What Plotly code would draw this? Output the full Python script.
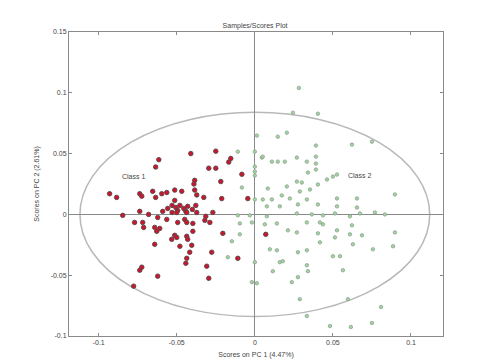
import plotly.graph_objects as go

title_text = "Samples/Scores Plot"
x_title = "Scores on PC 1 (4.47%)"
y_title = "Scores on PC 2 (2.61%)"

class1_x = [-0.041, -0.025, -0.0615, -0.0635, -0.0154, -0.0167, -0.0295, -0.025, -0.0083, -0.0385,
            -0.039, -0.0218, -0.093, -0.0885, -0.0737, -0.0724, -0.0654, -0.0635, -0.0596, -0.0564,
            -0.0513, -0.0468, -0.0385, -0.0372, -0.0327, -0.0212, -0.0513, -0.0045, -0.053, -0.0506,
            -0.048, -0.0455, -0.043, -0.040, -0.0494, -0.0442, -0.0558, -0.0378, -0.0846, -0.0737,
            -0.068, -0.0622, -0.077, -0.0718, -0.0712, -0.0641, -0.0628, -0.0609, -0.053, -0.050,
            -0.0436, -0.0372, -0.0494, -0.0449, -0.0436, -0.0397, -0.0314, -0.0288, -0.0269, -0.032,
            -0.0513, -0.0532, -0.050, -0.0436, -0.043, -0.0397, -0.0641, -0.048, -0.0404, -0.0417,
            -0.0436, -0.0442, -0.0276, -0.0308, -0.0295, -0.0205, -0.0109, 0.007, -0.0724, -0.0737,
            -0.0622, -0.0776, -0.059, -0.0564]
class1_y = [0.050, 0.052, 0.045, 0.039, 0.046, 0.043, 0.038, 0.038, 0.033, 0.028,
            0.025, 0.027, 0.017, 0.014, 0.017, 0.015, 0.019, 0.014, 0.017, 0.018,
            0.020, 0.019, 0.020, 0.016, 0.014, 0.013, 0.0115, 0.013, 0.0074, 0.0057,
            0.0074, 0.0049, 0.0066, 0.0041, 0.0033, 0.0025, 0.0049, 0.0074, -0.0008, 0.0025,
            0.0, -0.0025, -0.0066, -0.0066, -0.0107, -0.0107, -0.0139, -0.0115, 0.0016, 0.0016,
            0.0016, 0.0016, -0.0066, -0.0041, -0.0066, -0.0074, -0.0016, -0.0066, 0.0016, -0.0049,
            -0.0172, -0.0205, -0.0189, -0.018, -0.0205, -0.0139, -0.0246, -0.0262, -0.0254, -0.0311,
            -0.0361, -0.0402, -0.0311, -0.0426, -0.0525, -0.0156, -0.0361, -0.0164, -0.0434, -0.0459,
            -0.0508, -0.059, 0.0025, -0.0041]

class2_x = [0.0282, 0.0244, 0.0404, 0.0013, 0.0147, 0.0205, 0.0391, 0.0622, 0.075, 0.0045,
            0.0109, 0.0147, 0.0192, 0.0269, 0.0333, 0.0391, 0.0391, 0.0, 0.0, 0.0,
            0.0, -0.0109, 0.034, 0.0391, 0.0462, 0.050, 0.0526, 0.0269, 0.0301, -0.0083,
            0.0083, 0.0205, 0.0288, 0.0353, 0.0404, 0.0897, 0.0, 0.0051, 0.0109, 0.0173,
            0.0224, 0.0276, 0.0333, 0.0404, 0.0526, 0.0654, 0.0077, 0.016, 0.0526, 0.0654,
            -0.0109, -0.0032, 0.0077, 0.0269, 0.0365, 0.0436, 0.0513, 0.0609, 0.0673, 0.0769,
            0.0833, -0.0096, -0.0019, 0.0064, 0.0141, 0.0333, 0.0436, 0.0622, -0.0096, -0.0147,
            0.0212, 0.0269, 0.0404, 0.0526, 0.0609, 0.0686, 0.0897, 0.0417, 0.0513, 0.0628,
            0.0885, 0.0756, -0.0173, 0.0096, 0.0141, 0.0276, 0.0333, 0.050, 0.0545, 0.016,
            0.0179, 0.0, 0.0115, 0.0333, 0.034, 0.0564, -0.0019, 0.0013, 0.0237, 0.0276,
            0.0288, 0.0596, 0.0808, 0.0333, 0.0481, 0.0615, 0.075, 0.0417, 0.0051]
class2_y = [0.104, 0.0836, 0.0828, 0.0648, 0.0639, 0.0672, 0.0566, 0.0574, 0.0598, 0.0467,
            0.0434, 0.0434, 0.0434, 0.0467, 0.0434, 0.0475, 0.0418, 0.0516, 0.0393, 0.0352,
            0.032, 0.0516, 0.0344, 0.0369, 0.0287, 0.0311, 0.0328, 0.027, 0.0262, 0.0221,
            0.0213, 0.023, 0.0189, 0.0205, 0.0246, 0.0164, 0.0123, 0.0123, 0.0123, 0.0156,
            0.0131, 0.0082, 0.0123, 0.0082, 0.0131, 0.0131, 0.0066, 0.0066, 0.0066, 0.0057,
            -0.0008, -0.0008, -0.0016, 0.0008, 0.0, -0.0008, 0.0008, -0.0016, 0.0008, 0.0016,
            0.0, -0.0074, -0.0066, -0.0082, -0.0074, -0.0066, -0.0082, -0.009, -0.0164, -0.0221,
            -0.0131, -0.0148, -0.0156, -0.0131, -0.0164, -0.0172, -0.0148, -0.023, -0.0189, -0.0246,
            -0.0262, -0.0287, -0.0352, -0.0287, -0.0295, -0.0311, -0.0295, -0.0344, -0.0344, -0.0393,
            -0.0385, -0.0393, -0.0467, -0.0418, -0.0467, -0.0459, -0.0557, -0.0566, -0.0557, -0.0516,
            -0.0697, -0.0697, -0.0762, -0.0836, -0.0918, -0.0926, -0.0893, -0.0066, 0.0475]

class_labels = ["Class 1", "Class 2"]
label_x = [-0.078, 0.067]
label_y = [0.031, 0.032]

ellipse_rx = 0.112
ellipse_ry = 0.084

x_ticks = [-0.1, -0.05, 0, 0.05, 0.1]
x_tick_text = ["-0.1", "-0.05", "0", "0.05", "0.1"]
y_ticks = [-0.1, -0.05, 0, 0.05, 0.1, 0.15]
y_tick_text = ["-0.1", "-0.05", "0", "0.05", "0.1", "0.15"]

fig = go.Figure()
fig.add_trace(go.Scatter(
    x=class2_x, y=class2_y, mode="markers", name="Class 2",
    marker=dict(symbol="circle", size=3.5, color="#9fd69f",
                line=dict(color="#8a9a8a", width=0.7)),
))
fig.add_trace(go.Scatter(
    x=class1_x, y=class1_y, mode="markers", name="Class 1",
    marker=dict(symbol="circle", size=4.5, color="#d0142e",
                line=dict(color="#554848", width=0.9)),
))
for t, lx, ly in zip(class_labels, label_x, label_y):
    fig.add_annotation(x=lx, y=ly, text=t, showarrow=False,
                       font=dict(size=7, color="#444"))

fig.add_shape(type="circle", xref="x", yref="y",
              x0=-ellipse_rx, x1=ellipse_rx, y0=-ellipse_ry, y1=ellipse_ry,
              line=dict(color="#b8b8b8", width=1.5), layer="below")

axis_common = dict(showline=True, linecolor="#8a8a8a", linewidth=1, mirror="ticks",
                   ticks="inside", ticklen=3, tickcolor="#8a8a8a",
                   showgrid=False, zeroline=True, zerolinecolor="#8a8a8a",
                   zerolinewidth=1, tickfont=dict(size=7, color="#444"),
                   automargin=False)

fig.update_layout(
    width=477, height=354,
    margin=dict(l=61, r=42, t=24, b=26),
    paper_bgcolor="white", plot_bgcolor="white",
    showlegend=False,
    font=dict(family="Liberation Sans, Arial, sans-serif", size=7, color="#444"),
    title=dict(text=title_text, x=0.518, xanchor="center", y=0.95, yanchor="middle",
               font=dict(size=7, color="#444")),
    xaxis=dict(range=[-0.119, 0.1205], tickvals=x_ticks, ticktext=x_tick_text,
               title=dict(text=x_title, standoff=6, font=dict(size=7)), **axis_common),
    yaxis=dict(range=[-0.1, 0.15], tickvals=y_ticks, ticktext=y_tick_text,
               title=dict(text=y_title, standoff=10, font=dict(size=7)), **axis_common),
)

fig.write_html("out.html")
